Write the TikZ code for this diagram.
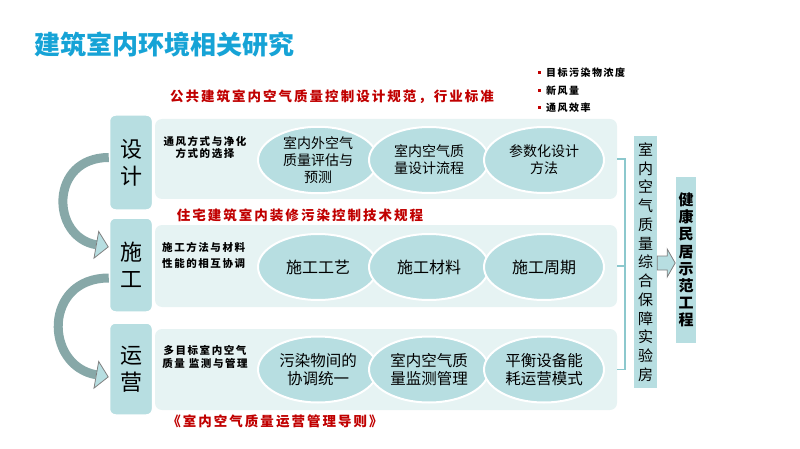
\documentclass[tikz,border=0pt]{standalone}
\usepackage{fontspec}
\setmainfont{Noto Sans CJK SC}
\newfontfamily\spacedcjk{Noto Sans CJK SC}[LetterSpace=15]
\usetikzlibrary{positioning, arrows.meta, shapes.geometric}

\definecolor{titleblue}{RGB}{22,163,214}
\definecolor{normred}{RGB}{192,0,0}
\definecolor{boxteal}{RGB}{183,222,225}
\definecolor{panelbg}{RGB}{230,243,243}
\definecolor{linkteal}{RGB}{140,200,205}
\definecolor{bandgray}{RGB}{135,168,168}

\begin{document}
\begin{tikzpicture}[x=1pt, y=1pt,
    panel/.style={fill=panelbg, rounded corners=7pt, minimum width=462pt, inner sep=0pt},
    stage/.style={fill=boxteal, draw=white, line width=1.5pt, rounded corners=6pt,
        minimum width=43pt, inner sep=0pt, align=center, font=\fontsize{22}{27}\selectfont},
    topic/.style={ellipse, fill=boxteal, draw=white, line width=2pt, minimum width=120pt,
        minimum height=66pt, inner sep=0pt, align=center},
    note/.style={inner sep=0pt, font=\spacedcjk\bfseries},
    norm/.style={inner sep=0pt, text=normred, font=\spacedcjk\fontsize{13.5}{16}\selectfont\bfseries},
    item/.style={anchor=west, inner sep=0pt, font=\spacedcjk\fontsize{10}{12}\selectfont\bfseries},
    flow/.style={bandgray, line width=9pt,
        -{Triangle[width=29pt, length=13pt, color=gray, fill=boxteal, line width=0.8pt]}},
    bracket/.style={linkteal, line width=1.5pt},
    tallbox/.style={fill=boxteal, inner sep=0pt, align=center}]
    \useasboundingbox (0,0) rectangle (800,-449);

    % Title
    \node[anchor=west, inner sep=0pt, text=titleblue,
        font=\fontsize{26}{30}\selectfont\bfseries] (title) at (34,-45) {建筑室内环境相关研究};

    % Standards
    \node[norm] (std1) at (332,-97) {公共建筑室内空气质量控制设计规范，行业标准};
    \node[norm] (std2) at (300,-215) {住宅建筑室内装修污染控制技术规程};
    \node[norm] (std3) at (275,-421) {《室内空气质量运营管理导则》};

    % Design parameters
    \foreach \txt/\y [count=\i] in {目标污染物浓度/73, 新风量/91, 通风效率/108} {
        \fill[normred] (537.5,-\y-1.5) rectangle ++(3,3);
        \node[item] (par\i) at (546,-\y) {\txt};
    }

    % Panels
    \node[panel, minimum height=80pt] (p1) at (386,-159) {};
    \node[panel, minimum height=82pt] (p2) at (386,-266) {};
    \node[panel, minimum height=81pt] (p3) at (386,-369.5) {};

    \node[note, align=center, font=\spacedcjk\fontsize{10.5}{12}\selectfont\bfseries]
        (n1) at (205,-147.5) {通风方式与净化\\方式的选择};
    \node[note, align=left, anchor=west, font=\spacedcjk\fontsize{10.5}{16}\selectfont\bfseries]
        (n2) at (162,-255) {施工方法与材料\\性能的相互协调};
    \node[note, align=center, font=\spacedcjk\fontsize{10.5}{13}\selectfont\bfseries]
        (n3) at (205,-356.5) {多目标室内空气\\质量 监测与管理};

    % Topics
    \node[topic, font=\fontsize{14}{17}\selectfont] (t11) at (318,-160) {室内外空气\\质量评估与\\预测};
    \node[topic, font=\fontsize{14}{17}\selectfont] (t12) at (429,-160) {室内空气质\\量设计流程};
    \node[topic, font=\fontsize{14}{17}\selectfont] (t13) at (544,-160) {参数化设计\\方法};
    \node[topic, font=\fontsize{16}{19}\selectfont] (t21) at (318,-267) {施工工艺};
    \node[topic, font=\fontsize{16}{19}\selectfont] (t22) at (429,-267) {施工材料};
    \node[topic, font=\fontsize{16}{19}\selectfont] (t23) at (544,-267) {施工周期};
    \node[topic, font=\fontsize{15.5}{18}\selectfont] (t31) at (318,-369.5) {污染物间的\\协调统一};
    \node[topic, font=\fontsize{15.5}{18}\selectfont] (t32) at (429,-369.5) {室内空气质\\量监测管理};
    \node[topic, font=\fontsize{15.5}{18}\selectfont] (t33) at (544,-369.5) {平衡设备能\\耗运营模式};

    % Stages
    \node[stage, minimum height=95pt] (sheji) at (131,-162.5) {设\\计};
    \node[stage, minimum height=94pt] (shigong) at (131,-265) {施\\工};
    \node[stage, minimum height=92pt] (yunying) at (131,-369) {运\\营};

    \draw[flow] ([yshift=5]sheji.west) to[out=180, in=170, looseness=1.7] ([yshift=18]shigong.west);
    \draw[flow] ([yshift=-13]shigong.west) to[out=180, in=170, looseness=1.7] ([yshift=-8]yunying.west);

    % Lab and demo project
    \draw[bracket] (p1.east) -- ++(8,0) |- (p3.east);
    \draw[bracket] (p2.east) -- ++(8,0);

    \node[tallbox, minimum width=23pt, minimum height=252pt, font=\fontsize{15}{18.75}\selectfont]
        (lab) at (645.5,-262) {室\\内\\空\\气\\质\\量\\综\\合\\保\\障\\实\\验\\房};
    \node[tallbox, minimum width=20pt, minimum height=166pt, font=\fontsize{15}{17.2}\selectfont\bfseries]
        (demo) at (686,-260) {健\\康\\民\\居\\示\\范\\工\\程};

    \coordinate (tail) at ([yshift=-1]lab.east);
    \draw[gray, fill=boxteal, line width=0.8pt] ([yshift=7]tail) -- ++(10,0) -- ++(0,7)
        -- ++(8,-14) -- ++(-8,-14) -- ++(0,7) -- ++(-10,0) -- cycle;
\end{tikzpicture}
\end{document}
